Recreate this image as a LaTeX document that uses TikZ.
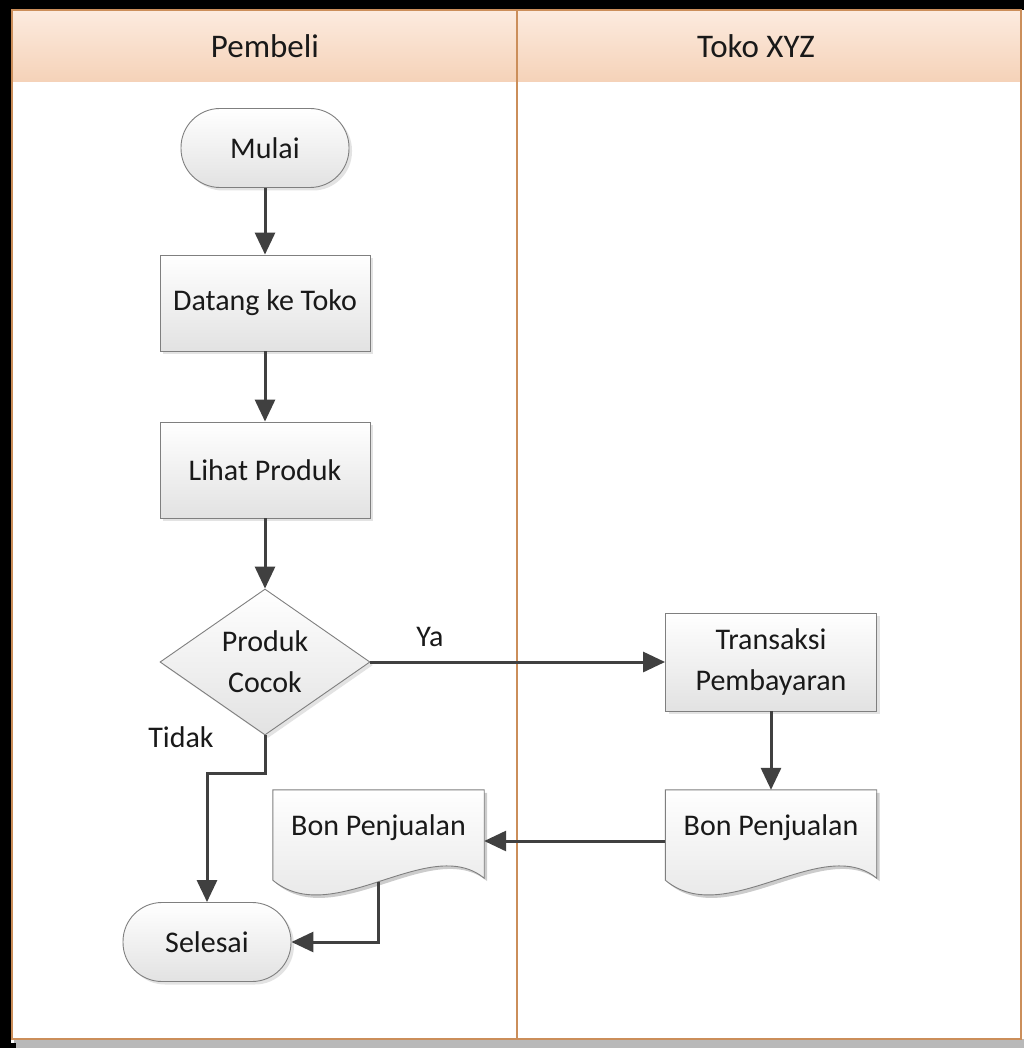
\documentclass[tikz,border=0pt]{standalone}
\usepackage{fontspec}
\setmainfont{Carlito}
\usetikzlibrary{shapes.geometric,arrows.meta,shadows,backgrounds}
\definecolor{lanebd}{HTML}{CB8E5A}
\definecolor{hdtop}{HTML}{FCEBDF}
\definecolor{hdbot}{HTML}{F5D2B8}
\definecolor{shpbd}{HTML}{7F7F7F}
\definecolor{shpbot}{HTML}{E2E2E2}
\definecolor{arrc}{HTML}{404040}
\newcommand\mydocshape[1]{%
  \path[fill=black,opacity=0.2] ([shift={(3pt,-3pt)}]#1.north west) -- ([shift={(3pt,-3pt)}]#1.north east) -- ([shift={(3pt,-15pt)}]#1.south east) .. controls +(-55,-45) and +(60,50) .. ([shift={(3pt,-17pt)}]#1.south west) -- cycle;
  \path[draw=shpbd, line width=0.9pt, top color=white, bottom color=shpbot] (#1.north west) -- (#1.north east) -- ([yshift=-12pt]#1.south east) .. controls +(-55,-45) and +(60,50) .. ([yshift=-14pt]#1.south west) -- cycle;}
\begin{document}
\begin{tikzpicture}[x=1pt,y=-1pt,
  txt/.style={font=\fontsize{30}{41}\selectfont, text=black!90, align=center},
  hdr/.style={font=\fontsize{33}{40}\selectfont, text=black!90},
  shp/.style={txt, draw=shpbd, line width=0.9pt, top color=white, bottom color=shpbot,
    drop shadow={opacity=0.22, shadow xshift=3pt, shadow yshift=-3pt}},
  proc/.style={shp, rectangle, minimum width=210pt, minimum height=96pt, inner sep=0pt},
  term/.style={shp, rectangle, rounded corners=39pt, minimum width=168pt, minimum height=79pt, inner sep=0pt},
  decn/.style={shp, diamond, aspect=1.44, minimum width=210pt, minimum height=146pt, inner sep=0pt},
  docn/.style={txt, rectangle, minimum width=211pt, minimum height=76pt, inner sep=0pt},
  arr/.style={draw=arrc, line width=3pt, -{Triangle[length=22pt,width=20pt]}},
  lbl/.style={txt}
]
\useasboundingbox (0,0) rectangle (1024,1048);
% screenshot frame
\fill[black] (0,0) rectangle (1024,10);
\fill[black] (0,0) rectangle (11,1048);
\fill[white] (1022,10) rectangle (1024,1040);
\fill[gray!55] (14,1039) rectangle (1024,1048);
\fill[black] (0,1043) rectangle (16,1048);
% pool
\begin{scope}[on background layer]
  \fill[white] (12,10) rectangle (1021,1039);
  \shade[top color=hdtop, bottom color=hdbot] (12,10) rectangle (1021,82);
\end{scope}
\draw[lanebd, line width=1.2pt] (517,10) -- (517,1039);
\draw[lanebd, line width=2pt] (12,10) rectangle (1021,1039);
\node[hdr] (hp) at (265,46) {Pembeli};
\node[hdr] (ht) at (756,46) {Toko XYZ};
% shapes
\node[term] (mulai) at (265,148) {Mulai};
\node[proc] (datang) at (265,303) {Datang ke Toko};
\node[proc] (lihat) at (265,470) {Lihat Produk};
\node[decn] (dec) at (265,662) {Produk\\Cocok};
\node[proc, minimum height=98pt, minimum width=211pt] (trans) at (771,662) {Transaksi\\Pembayaran};
\node[docn] (bonR) at (771,828) {Bon Penjualan};
\node[docn] (bonL) at (378.5,828) {Bon Penjualan};
\node[term] (sel) at (207,942) {Selesai};
\begin{scope}[on background layer]
  \mydocshape{bonR}
  \mydocshape{bonL}
\end{scope}
\node[lbl] (ya) at (430,637) {Ya};
\node[lbl] (tidak) at (181,737) {Tidak};
% connectors
\draw[arr] (mulai.south) -- (datang.north);
\draw[arr] (datang.south) -- (lihat.north);
\draw[arr] (lihat.south) -- (dec.north);
\draw[arr] (dec.east) -- (trans.west);
\draw[arr] (trans.south) -- (bonR.north);
\draw[arr] ([yshift=-13pt]bonR.west) -- ([yshift=-13pt]bonL.east);
\draw[arr] (dec.south) -- ++(0,38) -| (sel.north);
\draw[arr] ([yshift=-54pt]bonL.center) |- (sel.east);
\end{tikzpicture}
\end{document}
